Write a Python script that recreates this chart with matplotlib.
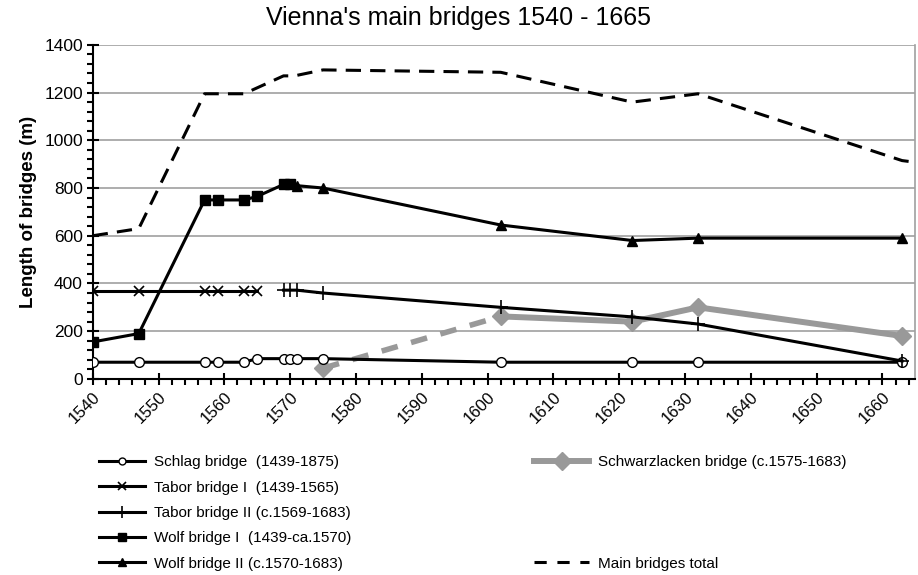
import matplotlib
matplotlib.use("Agg")
import matplotlib.pyplot as plt
from matplotlib.lines import Line2D
from matplotlib.ticker import MultipleLocator

plt.rcParams['font.family'] = ['Liberation Sans', 'DejaVu Sans']

# data (year, length in m)
schlag_x = [1540, 1547, 1557, 1559, 1563, 1565, 1569, 1570, 1571, 1575, 1602, 1622, 1632, 1663]
schlag_y = [70, 70, 70, 70, 70, 85, 85, 85, 85, 85, 70, 70, 70, 70]

tabor1_x = [1540, 1547, 1557, 1559, 1563, 1565]
tabor1_y = [370, 370, 370, 370, 370, 370]

tabor2_x = [1569, 1570, 1571, 1575, 1602, 1622, 1632, 1663]
tabor2_y = [372, 372, 372, 360, 300, 260, 230, 75]

wolf1_x = [1540, 1547, 1557, 1559, 1563, 1565, 1569, 1570]
wolf1_y = [155, 190, 750, 750, 750, 765, 815, 815]

wolf2_x = [1571, 1575, 1602, 1622, 1632, 1663]
wolf2_y = [810, 800, 645, 580, 590, 590]

schwarz_x = [1575, 1602, 1622, 1632, 1663]
schwarz_y = [45, 262, 240, 300, 180]

total_x = [1540, 1547, 1557, 1559, 1563, 1565, 1569, 1570, 1571, 1575, 1602, 1622, 1632, 1663, 1665]
total_y = [600, 630, 1195, 1195, 1195, 1220, 1270, 1270, 1272, 1295, 1285, 1160, 1195, 915, 908]

labels = ['Schlag bridge  (1439-1875)', 'Tabor bridge I  (1439-1565)',
          'Tabor bridge II (c.1569-1683)', 'Wolf bridge I  (1439-ca.1570)',
          'Wolf bridge II (c.1570-1683)', 'Schwarzlacken bridge (c.1575-1683)',
          'Main bridges total']

grey = '#999999'
lw = 2.2

fig = plt.figure(figsize=(9.18, 5.75), dpi=100)
ax = fig.add_axes([0.101, 0.341, 0.896, 0.581])

for y in range(200, 1401, 200):
    ax.axhline(y, color='#a0a0a0', lw=1.2, zorder=0)

ax.plot(total_x, total_y, color='black', lw=lw, dashes=(5, 3), zorder=2)
# gap in the record 1575-1602 drawn dashed
ax.plot(schwarz_x[:2], schwarz_y[:2], color=grey, lw=4.0, dashes=(3, 2.5), zorder=2)
ax.plot(schwarz_x[1:], schwarz_y[1:], color=grey, lw=4.3, zorder=2)
ax.plot(schwarz_x, schwarz_y, ls='none', marker='D', ms=9, color=grey, zorder=2)
ax.plot(schlag_x, schlag_y, color='black', lw=lw, marker='o', ms=7,
        mfc='white', mec='black', mew=1.0, zorder=3)
ax.plot(tabor1_x, tabor1_y, color='black', lw=lw, marker='x', ms=7, mew=1.2, zorder=3)
ax.plot(tabor2_x, tabor2_y, color='black', lw=lw, marker='+', ms=10, mew=1.2, zorder=3)
ax.plot(wolf1_x, wolf1_y, color='black', lw=lw, marker='s', ms=7, zorder=3)
ax.plot(wolf2_x, wolf2_y, color='black', lw=lw, marker='^', ms=7, zorder=3)

ax.set_xlim(1540, 1665)
ax.set_ylim(0, 1400)
ax.xaxis.set_major_locator(MultipleLocator(10))
ax.xaxis.set_minor_locator(MultipleLocator(2))
ax.yaxis.set_major_locator(MultipleLocator(200))
ax.yaxis.set_minor_locator(MultipleLocator(40))
ax.tick_params(which='major', direction='inout', length=8, width=1.5, labelsize=12, color='black')
ax.tick_params(which='minor', direction='out', length=4, width=1.5, color='black')
ax.tick_params(axis='y', pad=3, labelsize=12.5)
for lab in ax.get_xticklabels():
    lab.set_rotation(45)
    lab.set_ha('right')
    lab.set_va('top')
    lab.set_rotation_mode('anchor')

ax.spines['top'].set_visible(False)
ax.spines['right'].set_color('#a0a0a0')
ax.spines['right'].set_linewidth(1.2)
ax.spines['left'].set_linewidth(1.5)
ax.spines['bottom'].set_linewidth(1.5)

ax.set_ylabel('Length of bridges (m)', fontsize=13.5, fontweight='bold', labelpad=5)
fig.text(0.5, 0.968, "Vienna's main bridges 1540 - 1665", ha='center', va='center', fontsize=18)

h_left = [
    Line2D([], [], color='black', lw=lw, marker='o', ms=5, mfc='white', mec='black'),
    Line2D([], [], color='black', lw=lw, marker='x', ms=6, mew=1.2),
    Line2D([], [], color='black', lw=lw, marker='+', ms=8, mew=1.2),
    Line2D([], [], color='black', lw=lw, marker='s', ms=6),
    Line2D([], [], color='black', lw=lw, marker='^', ms=6),
]
blank = Line2D([], [], ls='none')
h_right = [
    Line2D([], [], color=grey, lw=4.3, marker='D', ms=9),
    blank, blank, blank,
    Line2D([], [], color='black', lw=lw, dashes=(4, 3.5)),
]

leg_top = 0.208
fig.legend(h_left, labels[:5], loc='upper left', bbox_to_anchor=(0.108, leg_top),
           frameon=False, fontsize=11, handlelength=3.0, handletextpad=0.6,
           labelspacing=0.74, borderaxespad=0, borderpad=0)
fig.legend(h_right, [labels[5], '', '', '', labels[6]], loc='upper left',
           bbox_to_anchor=(0.582, leg_top), frameon=False, fontsize=11,
           handlelength=3.6, handletextpad=0.6, labelspacing=0.74, borderaxespad=0, borderpad=0)

fig.savefig('out.png', dpi=100)
